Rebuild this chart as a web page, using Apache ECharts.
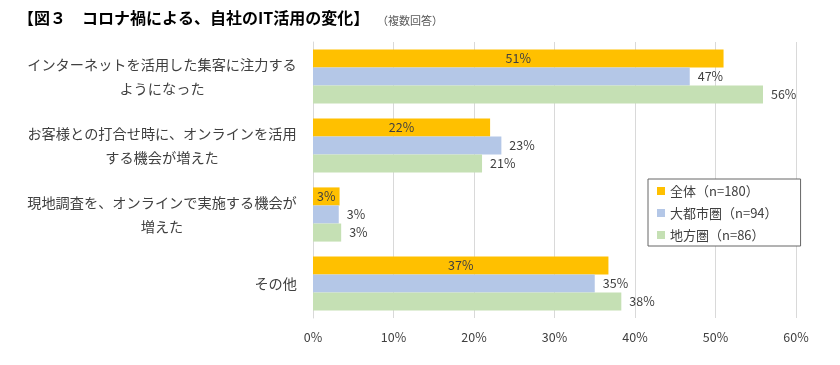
<!DOCTYPE html>
<html><head><meta charset="utf-8">
<script src="https://cdn.jsdelivr.net/npm/echarts@6/dist/echarts.min.js"></script>
<style>html,body{margin:0;padding:0;background:#fff}#c{width:840px;height:365px}</style>
</head><body><div id="c"></div>
<script>
const categories = [
  'インターネットを活用した集客に注力する\nようになった',
  'お客様との打合せ時に、オンラインを活用\nする機会が増えた',
  '現地調査を、オンラインで実施する機会が\n増えた',
  'その他'
];
const seriesNames = ['全体（n=180）', '大都市圏（n=94）', '地方圏（n=86）'];
const allValues = [51, 22, 3.3, 36.7];
const metroValues = [46.8, 23.4, 3.2, 35.0];
const localValues = [55.9, 21.0, 3.5, 38.3];
const displayLabels = [
  ['51%', '22%', '3%', '37%'],
  ['47%', '23%', '3%', '35%'],
  ['56%', '21%', '3%', '38%']
];
const xTicks = [0, 10, 20, 30, 40, 50, 60];
const colors = ['#FFC000', '#B4C7E7', '#C5E0B4'];
const FONT = '"Noto Sans CJK JP", "Noto Sans", sans-serif';

const chart = echarts.init(document.getElementById('c'), null, {renderer: 'canvas'});
const valueSets = [allValues, metroValues, localValues];
const series = valueSets.map((vals, i) => ({
  name: seriesNames[i],
  type: 'bar',
  data: vals,
  barGap: '0%',
  barCategoryGap: '21.5%',
  itemStyle: {color: colors[i]},
  label: {
    show: true,
    position: i === 0 ? 'inside' : 'right',
    distance: 8,
    color: '#404040',
    fontFamily: FONT,
    fontSize: 12.5,
    formatter: p => displayLabels[i][p.dataIndex]
  }
}));

chart.setOption({
  animation: false,
  backgroundColor: '#fff',
  title: [
    {text: '【図３　コロナ禍による、自社のIT活用の変化】', left: 13, top: 5,
     textStyle: {fontFamily: FONT, fontSize: 16, fontWeight: 'bold', color: '#000'}},
    {text: '（複数回答）', left: 372, top: 10,
     textStyle: {fontFamily: FONT, fontSize: 11, fontWeight: 'normal', color: '#595959'}}
  ],
  legend: {
    orient: 'vertical',
    left: 648, top: 179,
    padding: [4, 23, 3, 9],
    itemGap: 6,
    itemWidth: 8, itemHeight: 8,
    icon: 'rect',
    backgroundColor: '#fff',
    borderColor: '#666',
    borderWidth: 1,
    borderRadius: 0,
    textStyle: {fontFamily: FONT, fontSize: 13, color: '#404040', lineHeight: 16},
    data: seriesNames
  },
  grid: {left: 313, right: 44, top: 42, bottom: 47, containLabel: false},
  xAxis: {
    type: 'value', min: 0, max: 60, interval: 10,
    axisLine: {show: false},
    axisTick: {show: false},
    splitLine: {lineStyle: {color: '#d9d9d9', width: 1}},
    axisLabel: {margin: 13, color: '#404040', fontFamily: FONT, fontSize: 12.5,
      formatter: v => xTicks.indexOf(v) >= 0 ? v + '%' : ''}
  },
  yAxis: {
    type: 'category', inverse: true, data: categories,
    axisLine: {show: true, lineStyle: {color: '#d9d9d9'}},
    axisTick: {show: false},
    axisLabel: {
      margin: 16, align: 'right', color: '#404040', fontFamily: FONT, fontSize: 14.2, lineHeight: 24,
      formatter: v => v.indexOf('\n') >= 0 ? v.split('\n').map(l => '{c|' + l + '}').join('\n') : v,
      rich: {c: {width: 270, align: 'center', color: '#404040', fontFamily: FONT, fontSize: 14.2, lineHeight: 24}}
    }
  },
  series: series
});
</script></body></html>
